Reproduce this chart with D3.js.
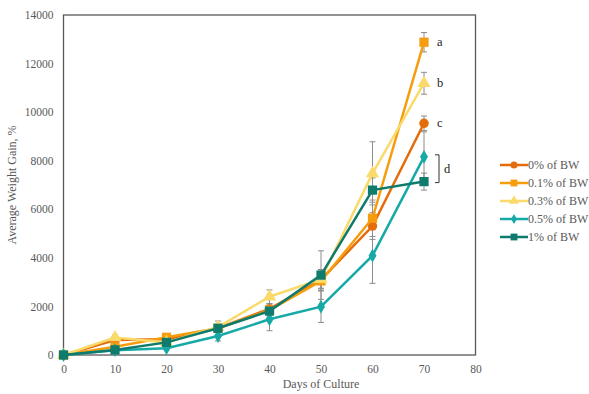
<!DOCTYPE html>
<html><head><meta charset="utf-8">
<script src="https://cdn.jsdelivr.net/npm/d3@7"></script>
<style>body{margin:0;background:#fff}svg{display:block}text{font-family:"Liberation Serif","Times New Roman",serif;fill:#595959}</style>
</head><body><svg id="c" width="589" height="394"></svg>
<script>
const days = [0, 10, 20, 30, 40, 50, 60, 70];
const seriesNames = ["0% of BW", "0.1% of BW", "0.3% of BW", "0.5% of BW", "1% of BW"];
const vals0  = [0, 620, 650, 1100, 1900, 3100, 5310, 9540];
const vals01 = [0, 340, 730, 1100, 1850, 3050, 5630, 12880];
const vals03 = [0, 720, 520, 1150, 2400, 3120, 7480, 11190];
const vals05 = [0, 200, 280, 780, 1470, 1990, 4090, 8160];
const vals1  = [0, 210, 520, 1100, 1810, 3290, 6790, 7140];
const err0  = [0, 80, 80, 120, 200, 350, 550, 300];
const err01 = [0, 80, 80, 120, 200, 400, 750, 400];
const err03 = [0, 100, 80, 120, 280, 400, 1300, 450];
const err05 = [0, 60, 60, 200, 470, 650, 1140, 1030];
const err1  = [0, 60, 80, 300, 200, 1000, 500, 350];
const yTicks = [0, 2000, 4000, 6000, 8000, 10000, 12000, 14000];
const xTicks = [0, 10, 20, 30, 40, 50, 60, 70, 80];
const colors = ["#E46C0A", "#F59D0E", "#F9DA6A", "#17A9A6", "#0F7B6C"];
const markers = ["circle", "square", "triangle", "diamond", "square"];

const values = [vals0, vals01, vals03, vals05, vals1];
const errs = [err0, err01, err03, err05, err1];

const svg = d3.select("#c");
const x = d3.scaleLinear().domain([0, 80]).range([63.5, 475.5]);
const y = d3.scaleLinear().domain([0, 14000]).range([355, 15]);

svg.append("rect").attr("x", x(0)).attr("y", y(14000)).attr("width", x(80) - x(0)).attr("height", y(0) - y(14000))
  .attr("fill", "none").attr("stroke", "#595959").attr("stroke-width", 1.3);

const ya = svg.append("g").attr("transform", `translate(${x(0)},0)`).call(d3.axisLeft(y).tickValues(yTicks).tickSize(0).tickPadding(10).tickFormat(d3.format("d")));
ya.select(".domain").remove();
ya.selectAll("text").style("font-size", "11.5px").attr("fill", "#595959");
const xa = svg.append("g").attr("transform", `translate(0,${y(0)})`).call(d3.axisBottom(x).tickValues(xTicks).tickSize(0).tickPadding(10));
xa.select(".domain").remove();
xa.selectAll("text").style("font-size", "11.5px").attr("fill", "#595959");

svg.append("text").attr("x", x(50)).attr("y", 388).attr("text-anchor", "middle").style("font-size", "12px").text("Days of Culture");
svg.append("text").attr("transform", `translate(16,${y(7000)}) rotate(-90)`).attr("text-anchor", "middle").style("font-size", "12px").text("Average Weight Gain, %");

const eg = svg.append("g").attr("stroke", "#8c8c8c").attr("stroke-width", 1);
values.forEach((vs, si) => {
  vs.forEach((v, i) => {
    const e = errs[si][i];
    if (!e) return;
    const cx = x(days[i]);
    eg.append("line").attr("x1", cx).attr("x2", cx).attr("y1", y(v - e)).attr("y2", y(v + e));
    eg.append("line").attr("x1", cx - 3).attr("x2", cx + 3).attr("y1", y(v - e)).attr("y2", y(v - e));
    eg.append("line").attr("x1", cx - 3).attr("x2", cx + 3).attr("y1", y(v + e)).attr("y2", y(v + e));
  });
});

const symMap = { circle: d3.symbolCircle, square: d3.symbolSquare, triangle: d3.symbolTriangle, diamond: d3.symbolDiamond };
const symSize = { circle: 70, square: 85, triangle: 75, diamond: 55 };
const line = d3.line().x((d, i) => x(days[i])).y(d => y(d));

values.forEach((vs, si) => {
  const g = svg.append("g");
  g.append("path").attr("d", line(vs)).attr("fill", "none").attr("stroke", colors[si]).attr("stroke-width", 2.5);
  g.selectAll("path.m").data(vs).join("path").attr("class", "m")
    .attr("transform", (d, i) => `translate(${x(days[i])},${y(d)})`)
    .attr("d", d3.symbol().type(symMap[markers[si]]).size(symSize[markers[si]])())
    .attr("fill", colors[si]);
});

[[1, "a"], [2, "b"], [0, "c"]].forEach(([si, l]) => {
  svg.append("text").attr("x", x(70) + 13).attr("y", y(values[si][7]) + 4).style("font-size", "12.5px").style("fill", "#222").text(l);
});
const bTop = y(vals05[7]) - 2, bBot = y(vals1[7]) + 1, bx = x(70) + 11;
svg.append("path").attr("d", `M${bx},${bTop}H${bx + 4}V${bBot}H${bx}`).attr("fill", "none").attr("stroke", "#333").attr("stroke-width", 1);
svg.append("text").attr("x", bx + 9).attr("y", (bTop + bBot) / 2 + 4).style("font-size", "12.5px").style("fill", "#222").text("d");

const lg = svg.append("g");
seriesNames.forEach((n, i) => {
  const ly = 165 + i * 18;
  lg.append("line").attr("x1", 500).attr("x2", 528).attr("y1", ly).attr("y2", ly).attr("stroke", colors[i]).attr("stroke-width", 2.5);
  lg.append("path").attr("transform", `translate(514,${ly})`).attr("d", d3.symbol().type(symMap[markers[i]]).size(symSize[markers[i]] * 0.55)()).attr("fill", colors[i]);
  lg.append("text").attr("x", 528).attr("y", ly + 4).style("font-size", "12px").text(n);
});
</script></body></html>
